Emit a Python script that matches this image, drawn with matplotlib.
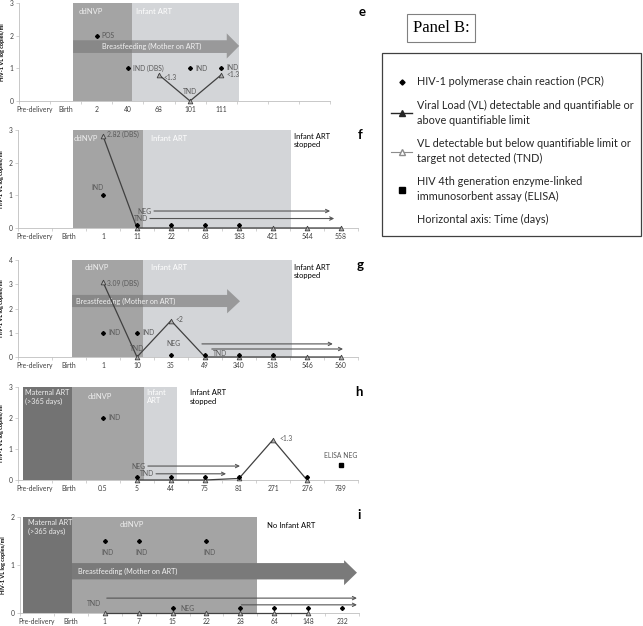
import numpy as np
import matplotlib
matplotlib.use('Agg')
import matplotlib.pyplot as plt
from matplotlib.lines import Line2D
from matplotlib.patches import Rectangle

plt.rcParams['font.family'] = ['Lato', 'DejaVu Sans']

W, H = 643, 626

# ---- panel e
e_cats = ['Pre-delivery', 'Birth', '2', '40', '68', '101', '111', '', '', '']
e_pcr_days = ['2', '40', '101', '111']
e_pcr_vals = [2, 1, 1, 1]
e_vl_days = ['68', '101', '111']
e_vl_vals = [0.8, 0, 0.8]

# ---- panel f
f_cats = ['Pre-delivery', 'Birth', '1', '11', '22', '63', '183', '421', '544', '558']
f_pcr_days = ['1', '11', '22', '63', '183']
f_pcr_vals = [1, 0.1, 0.1, 0.1, 0.1]
f_vl_days = ['1', '11', '22', '63', '183', '421', '544', '558']
f_vl_vals = [2.82, 0, 0, 0, 0, 0, 0, 0]

# ---- panel g
g_cats = ['Pre-delivery', 'Birth', '1', '10', '35', '49', '340', '518', '546', '560']
g_pcr_days = ['1', '10', '35', '49', '340', '518']
g_pcr_vals = [1, 1, 0.1, 0.1, 0.1, 0.1]
g_vl_days = ['1', '10', '35', '49', '340', '518', '546', '560']
g_vl_vals = [3.09, 0, 1.5, 0, 0, 0, 0, 0]

# ---- panel h
h_cats = ['Pre-delivery', 'Birth', '0.5', '5', '44', '75', '81', '271', '276', '789']
h_pcr_days = ['0.5', '5', '44', '75', '81', '276']
h_pcr_vals = [2, 0.1, 0.1, 0.1, 0.1, 0.1]
h_vl_days = ['5', '44', '75', '81', '271', '276']
h_vl_vals = [0, 0, 0, 0.05, 1.3, 0]
h_elisa_days = ['789']
h_elisa_vals = [0.5]

# ---- panel i
i_cats = ['Pre-delivery', 'Birth', '1', '7', '15', '22', '28', '64', '148', '232']
i_pcr_days = ['1', '7', '15', '22', '28', '64', '148', '232']
i_pcr_vals = [1.5, 1.5, 0.1, 1.5, 0.1, 0.1, 0.1, 0.1]
i_vl_days = ['1', '7', '15', '22', '28', '64', '148']
i_vl_vals = [0, 0, 0, 0, 0, 0, 0]

MAT = '#737373'
NVP = '#a4a4a4'
ART = '#d3d5d8'
TXT = '#595959'

fig = plt.figure(figsize=(W / 100, H / 100), dpi=100)


def make_ax(left, top, right, bottom, cats, ymax):
    ax = fig.add_axes([left / W, 1 - bottom / H, (right - left) / W, (bottom - top) / H])
    n = len(cats)
    ax.set_xlim(-0.5, n - 0.5)
    ax.set_ylim(0, ymax)
    ax.set_xticks(range(n))
    ax.set_xticklabels(cats, fontsize=4.9, color='#404040')
    ax.set_xticks(np.arange(-0.5, n), minor=True)
    ax.tick_params(axis='x', which='major', length=0, pad=3.5)
    ax.tick_params(axis='x', which='minor', length=2.5, color='#bfbfbf', width=0.5)
    ax.set_yticks(range(ymax + 1))
    ax.tick_params(axis='y', labelsize=4.9, length=2, color='#bfbfbf', width=0.5,
                   pad=2, labelcolor='#404040')
    for s in ['top', 'right']:
        ax.spines[s].set_visible(False)
    for s in ['left', 'bottom']:
        ax.spines[s].set_color('#bfbfbf')
        ax.spines[s].set_linewidth(0.6)
    ax.set_ylabel('HIV-1 VL log copies/ml', fontsize=4, fontweight='bold')
    ax.yaxis.set_label_coords(-14 / (right - left), 0.5)
    ax.patch.set_alpha(0)
    return ax


def pos(cats, days):
    return [cats.index(d) for d in days]


def draw_series(ax, cats, pcr_d, pcr_v, vl_d, vl_v):
    ax.plot(pos(cats, vl_d), vl_v, color='#404040', lw=0.9, marker='^', ms=3.4,
            mfc='#b0b0b0', mec='#404040', mew=0.6, clip_on=False, zorder=4)
    ax.plot(pos(cats, pcr_d), pcr_v, ls='none', marker='D', ms=2.0, color='black',
            clip_on=False, zorder=5)


def note(ax, x, y, text, dx=4, dy=0, ha='left', color=TXT, size=4.9):
    ax.annotate(text, (x, y), xytext=(dx, dy), textcoords='offset points',
                ha=ha, va='center', fontsize=size, color=color, zorder=6)


def dur_arrow(ax, x0, x1, y, text=''):
    ax.annotate('', xy=(x1, y), xytext=(x0, y),
                arrowprops=dict(arrowstyle='->', color='#555555', lw=0.8,
                                shrinkA=0, shrinkB=0, mutation_scale=6), zorder=3)
    if text:
        note(ax, x0, y, text, dx=-1.5, dy=0, ha='right')


def bf_arrow(ax, x0, xh, xt, yb, yt, hb, ht, alpha, tx, ty):
    ax.fill([x0, xh, xh, xt, xh, xh, x0], [yb, yb, hb, (hb + ht) / 2, ht, yt, yt],
            color='#7a7a7a', alpha=alpha, lw=0, zorder=2)
    ax.text(tx, ty, 'Breastfeeding (Mother on ART)', fontsize=5.2, color='#f2f2f2',
            ha='left', va='center', zorder=3)


def band_text(ax, x, y, text, color='white', size=5.5):
    ax.text(x, y, text, fontsize=size, color=color, ha='left', va='top', zorder=3,
            linespacing=1.3)


# ---------------- panel e
ax = make_ax(19, 3, 330, 101, e_cats, 3)
ax.axvspan(1.24, 3.14, color=NVP, lw=0, zorder=0)
ax.axvspan(3.14, 6.58, color=ART, lw=0, zorder=0)
band_text(ax, 1.42, 2.85, 'ddNVP', '#eeeeee')
band_text(ax, 3.25, 2.85, 'Infant ART')
bf_arrow(ax, 1.24, 6.18, 6.58, 1.47, 1.86, 1.3, 2.07, 0.65, 2.17, 1.66)
draw_series(ax, e_cats, e_pcr_days, e_pcr_vals, e_vl_days, e_vl_vals)
note(ax, 2, 2, 'POS', dx=3.5)
note(ax, 3, 1, 'IND (DBS)', dx=3.5)
note(ax, 5, 1, 'IND', dx=4)
note(ax, 6, 1, 'IND', dx=4, dy=0.5)
note(ax, 4, 0.8, '<1.3', dx=3, dy=-2)
note(ax, 5, 0, 'TND', dx=0, dy=6.5, ha='center')
note(ax, 6, 0.8, '<1.3', dx=4, dy=0)

# ---------------- panel f
ax = make_ax(18, 130, 358, 228, f_cats, 3)
ax.axvspan(1.12, 3.18, color=NVP, lw=0, zorder=0)
ax.axvspan(3.18, 7.53, color=ART, lw=0, zorder=0)
band_text(ax, 1.15, 2.85, 'ddNVP', '#eeeeee')
band_text(ax, 3.42, 2.85, 'Infant ART')
band_text(ax, 7.62, 2.92, 'Infant ART\nstopped', 'black')
draw_series(ax, f_cats, f_pcr_days, f_pcr_vals, f_vl_days, f_vl_vals)
note(ax, 2, 2.82, '2.82 (DBS)', dx=3, dy=1)
note(ax, 2, 1, 'IND', dx=-4, dy=6, ha='center')
dur_arrow(ax, 3.5, 8.68, 0.52, 'NEG')
dur_arrow(ax, 3.38, 8.8, 0.29, 'TND')

# ---------------- panel g
ax = make_ax(18, 260, 358, 357, g_cats, 4)
ax.axvspan(1.09, 3.18, color=NVP, lw=0, zorder=0)
ax.axvspan(3.18, 7.56, color=ART, lw=0, zorder=0)
band_text(ax, 1.45, 3.85, 'ddNVP', '#eeeeee')
band_text(ax, 3.42, 3.85, 'Infant ART')
band_text(ax, 7.62, 3.85, 'Infant ART\nstopped', 'black')
bf_arrow(ax, 1.09, 5.65, 6.03, 2.06, 2.56, 1.8, 2.8, 0.65, 1.2, 2.31)
draw_series(ax, g_cats, g_pcr_days, g_pcr_vals, g_vl_days, g_vl_vals)
note(ax, 2, 3.09, '3.09 (DBS)', dx=3, dy=-1)
note(ax, 2, 1, 'IND', dx=4)
note(ax, 3, 1, 'IND', dx=4)
note(ax, 3, 0, 'TND', dx=0, dy=6, ha='center')
note(ax, 4, 1.5, '<2', dx=3, dy=1)
note(ax, 4, 0.1, 'NEG', dx=2, dy=8, ha='center')
note(ax, 5, 0, 'TND', dx=6, dy=2.6)
dur_arrow(ax, 4.91, 8.76, 0.54)
dur_arrow(ax, 5.2, 9.06, 0.33)

# ---------------- panel h
ax = make_ax(18, 387, 358, 480, h_cats, 3)
ax.axvspan(-0.35, 1.09, color=MAT, lw=0, zorder=0)
ax.axvspan(1.09, 3.2, color=NVP, lw=0, zorder=0)
ax.axvspan(3.2, 4.18, color=ART, lw=0, zorder=0)
band_text(ax, -0.3, 2.95, 'Maternal ART\n(>365 days)', '#eeeeee', 5.2)
band_text(ax, 1.55, 2.8, 'ddNVP', '#eeeeee')
band_text(ax, 3.28, 2.95, 'Infant\nART')
band_text(ax, 4.55, 2.92, 'Infant ART\nstopped', 'black')
draw_series(ax, h_cats, h_pcr_days, h_pcr_vals, h_vl_days, h_vl_vals)
ax.plot(pos(h_cats, h_elisa_days), h_elisa_vals, ls='none', marker='s', ms=3,
        color='black', zorder=5)
note(ax, 2, 2, 'IND', dx=4)
note(ax, 7, 1.3, '<1.3', dx=5, dy=1)
note(ax, 9, 0.5, 'ELISA NEG', dx=0, dy=6.5, ha='center')
dur_arrow(ax, 3.32, 6.03, 0.45, 'NEG')
dur_arrow(ax, 3.56, 5.62, 0.2, 'TND')

# ---------------- panel i
ax = make_ax(20, 517, 359, 613, i_cats, 2)
ax.axvspan(-0.41, 1.03, color=MAT, lw=0, zorder=0)
ax.axvspan(1.03, 6.5, color=NVP, lw=0, zorder=0)
band_text(ax, -0.25, 1.95, 'Maternal ART\n(>365 days)', '#eeeeee', 5.2)
band_text(ax, 2.45, 1.92, 'ddNVP', '#eeeeee')
band_text(ax, 6.8, 1.9, 'No Infant ART', 'black')
bf_arrow(ax, 1.03, 9.06, 9.44, 0.7, 1.04, 0.58, 1.1, 1.0, 1.2, 0.87)
draw_series(ax, i_cats, i_pcr_days, i_pcr_vals, i_vl_days, i_vl_vals)
for d in ['1', '7', '22']:
    note(ax, i_cats.index(d), 1.5, 'IND', dx=2, dy=-8, ha='center')
note(ax, 4, 0.1, 'NEG', dx=5.5)
dur_arrow(ax, 2.06, 9.44, 0.31)
dur_arrow(ax, 6.03, 9.44, 0.17)
note(ax, 2.06, 0.2, 'TND', dx=-4, dy=0, ha='right')

# ---------------- panel letters
for lx, ly, lt in [(362, 12, 'e'), (360, 135, 'f'), (360, 265, 'g'),
                   (359, 392, 'h'), (359, 515, 'i')]:
    fig.text(lx / W, 1 - ly / H, lt, fontsize=9.5, fontweight='bold',
             ha='center', va='center')

# ---------------- Panel B box and legend
fig.text(441 / W, 1 - 28 / H, 'Panel B:', ha='center', va='center',
         family='Liberation Serif', fontsize=12,
         bbox=dict(boxstyle='square,pad=0.35', fc='white', ec='#808080', lw=0.8))

fig.patches.append(Rectangle((382 / W, 1 - 236 / H), 259 / W, 183 / H,
                             transform=fig.transFigure, fill=False,
                             ec='#404040', lw=0.9))

handles = [
    Line2D([], [], ls='none', marker='D', ms=2.6, color='black'),
    Line2D([], [], color='#262626', lw=1, marker='^', ms=3.8, mfc='#262626'),
    Line2D([], [], color='#8c8c8c', lw=0.8, marker='^', ms=4.5, mfc='white', mec='#8c8c8c'),
    Line2D([], [], ls='none', marker='s', ms=3.8, color='black'),
    Line2D([], [], ls='none'),
]
labels = [
    'HIV-1 polymerase chain reaction (PCR)',
    'Viral Load (VL) detectable and quantifiable or\nabove quantifiable limit',
    'VL detectable but below quantifiable limit or\ntarget not detected (TND)',
    'HIV 4th generation enzyme-linked\nimmunosorbent assay (ELISA)',
    'Horizontal axis: Time (days)',
]
leg = fig.legend(handles, labels, loc='upper left', bbox_to_anchor=(386 / W, 1 - 71 / H),
                 frameon=False, borderpad=0, fontsize=7.8, handlelength=1.9,
                 handletextpad=0.5, labelspacing=1.15, labelcolor='#262626')
for t in leg.get_texts():
    t.set_linespacing(1.4)

fig.savefig('out.png', dpi=100)
